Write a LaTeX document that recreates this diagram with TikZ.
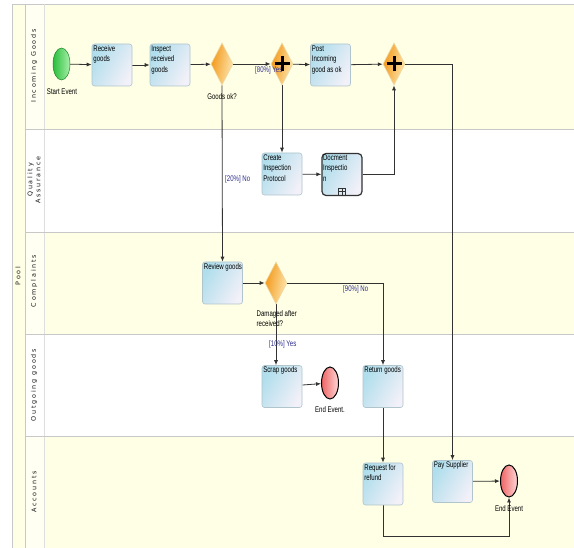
\documentclass[tikz,border=0pt]{standalone}
\usepackage{fontspec}
\setmainfont{Liberation Sans}
\newfontfamily\condfont[FakeStretch=0.74]{Liberation Sans}
\newfontfamily\spacedfont[LetterSpace=28]{DejaVu Sans}
\usetikzlibrary{shapes.geometric,arrows.meta}
\pgfdeclarelayer{lanes}
\pgfdeclarelayer{edges}
\pgfsetlayers{lanes,edges,main}
\definecolor{laneyellow}{RGB}{255,255,230}
\definecolor{headyellow}{RGB}{255,255,242}
\definecolor{lanegray}{RGB}{200,200,200}
\definecolor{taskblue}{RGB}{176,222,236}
\definecolor{taskwhite}{RGB}{242,240,248}
\definecolor{taskborder}{RGB}{176,196,204}
\definecolor{gworange}{RGB}{243,150,20}
\definecolor{gwlight}{RGB}{253,232,180}
\definecolor{gwborder}{RGB}{240,215,160}
\definecolor{evgreen}{RGB}{40,190,60}
\definecolor{evgreenlight}{RGB}{170,240,170}
\definecolor{evred}{RGB}{238,100,100}
\definecolor{evredlight}{RGB}{255,215,215}
\definecolor{flowlbl}{RGB}{46,46,140}
\definecolor{linecol}{RGB}{50,50,50}
\tikzset{
  boxfont/.style={font=\fontsize{8.2}{10.5}\selectfont\condfont},
  task/.style={rectangle, rounded corners=2.5pt, draw=taskborder, line width=0.6pt,
    minimum width=40pt, minimum height=42pt, inner sep=0pt,
    left color=taskblue, right color=taskwhite, shading angle=60},
  tasktxt/.style={anchor=north west, align=left, inner sep=1.5pt, boxfont, text=black},
  gateway/.style={diamond, draw=gwborder, line width=0.6pt, inner sep=0pt,
    minimum width=22pt, minimum height=42pt, left color=gworange, right color=gwlight, shading angle=80},
  startev/.style={ellipse, draw=evgreen!70!black, line width=0.5pt, minimum width=17pt, minimum height=32pt,
    inner sep=0pt, left color=evgreen, right color=evgreenlight},
  endev/.style={ellipse, draw=black, line width=1pt, minimum width=17pt, minimum height=32pt,
    inner sep=0pt, left color=evred, right color=evredlight},
  evlbl/.style={boxfont, inner sep=0pt},
  flowtxt/.style={boxfont, text=flowlbl, inner sep=0pt},
  flow/.style={draw=linecol, line width=0.8pt, -{Latex[length=5pt,width=4pt]}},
  plainflow/.style={draw=linecol, line width=0.8pt},
  plusmark/.style={black, line width=3pt},
  lanelbl/.style={font=\fontsize{6.4}{8}\selectfont\spacedfont, text=black!90, rotate=90, align=center, inner sep=0pt}
}
\begin{document}
\begin{tikzpicture}[x=1pt,y=-1pt]
\useasboundingbox (0,0) rectangle (574,548);
\begin{pgfonlayer}{lanes}
  \fill[white] (0,0) rectangle (574,548);
  \fill[laneyellow] (12,4) rectangle (574,548);
  \fill[laneyellow] (25,4) rectangle (574,129);
  \fill[white] (25,129) rectangle (574,232);
  \fill[laneyellow] (25,232) rectangle (574,334);
  \fill[white] (25,334) rectangle (574,436);
  \fill[laneyellow] (25,436) rectangle (574,548);
  \fill[headyellow] (25,4) rectangle (44,129);
  \fill[headyellow] (25,232) rectangle (44,334);
  \fill[headyellow] (25,436) rectangle (44,548);
  \draw[lanegray, line width=0.8pt] (12,548) -- (12,4) -- (574,4);
  \draw[lanegray, line width=0.6pt] (25,4) -- (25,548);
  \draw[lanegray!60, line width=0.4pt] (44,4) -- (44,548);
  \foreach \yy in {129,232,334,436} \draw[lanegray, line width=0.8pt] (25,\yy) -- (574,\yy);
\end{pgfonlayer}
% lane titles
\node[lanelbl] (pool) at (18,276) {Pool};
\node[lanelbl] (lig) at (34,66) {Incoming Goods};
\node[lanelbl] (lqa) at (34,180) {Quality\\Assurance};
\node[lanelbl] (lco) at (34,281) {Complaints};
\node[lanelbl] (log) at (34,385) {Outgoing goods};
\node[lanelbl] (lac) at (34,492) {Accounts};
% nodes
\node[startev] (start) at (61.5,64) {};
\node[evlbl] (startl) at (62,92) {Start Event};
\node[task, label={[tasktxt]north west:{Receive\\goods}}] (receive) at (112,65) {};
\node[task, label={[tasktxt]north west:{Inspect\\received\\goods}}] (inspect) at (170,65) {};
\node[gateway] (gok) at (222,64) {};
\node[evlbl] (gokl) at (222,97) {Goods ok?};
\node[gateway] (par1) at (282,64) {};
\node[flowtxt, anchor=west] (l80) at (255,70) {[80\%] Yes};
\node[task, label={[tasktxt]north west:{Post\\Incoming\\good as ok}}] (post) at (330.5,65) {};
\node[gateway] (par2) at (394,64) {};
\foreach \g in {par1,par2}{
  \draw[plusmark] ([yshift=-7.5pt]\g.center) -- ([yshift=7.5pt]\g.center);
  \draw[plusmark] ([xshift=-7.5pt]\g.center) -- ([xshift=7.5pt]\g.center);
}
\node[task, label={[tasktxt]north west:{Create\\Inspection\\Protocol}}] (create) at (282,174) {};
\node[task, draw=black!80, line width=1.2pt, rounded corners=4pt,
  label={[tasktxt]north west:{Docment\\Inspectio\\n}}] (docinsp) at (342,174.5) {};
\draw[black!80, line width=0.5pt] (338.5,188) rectangle (345.5,195);
\draw[black!80, line width=0.5pt] (342,188) -- (342,195) (338.5,191.5) -- (345.5,191.5);
\node[task, label={[tasktxt]north west:{Review goods}}] (review) at (222.5,283) {};
\node[gateway] (dmg) at (276,283) {};
\node[evlbl, anchor=north west, align=left] (dmgl) at (256.5,310) {Damaged after\\received?};
\node[task, label={[tasktxt]north west:{Scrap goods}}] (scrap) at (282,386.5) {};
\node[endev] (end1) at (330,383) {};
\node[evlbl] (end1l) at (330,410) {End Event.};
\node[task, label={[tasktxt]north west:{Return goods}}] (return) at (383,386.5) {};
\node[task, label={[tasktxt]north west:{Request for\\refund}}] (refund) at (383,484) {};
\node[task, label={[tasktxt]north west:{Pay Supplier}}] (pay) at (452.5,481.5) {};
\node[endev] (end2) at (509,481) {};
\node[evlbl] (end2l) at (509,509) {End Event};
\coordinate (c1) at (383,536);
% edges
\begin{pgfonlayer}{edges}
  \draw[flow] (start) -- (receive);
  \draw[flow] (receive) -- (inspect);
  \draw[flow] (inspect) -- (gok);
  \draw[flow] (gok) -- (par1);
  \draw[flow] (par1) -- (post);
  \draw[flow] (post) -- (par2);
  \draw[flow] (par1) -- (create);
  \draw[flow] (create) -- (docinsp);
  \draw[flow] (docinsp.east) -| (par2.south);
  \draw[flow] (par2.east) -| (pay.north);
  \draw[flow] (gok.south) -- (review.north);
  \draw[flow] (review) -- (dmg);
  \draw[flow] (dmg.east) -| (return.north);
  \draw[flow] (dmg.south) -- (dmg.south |- scrap.north);
  \draw[flow] (scrap) -- (end1);
  \draw[flow] (return) -- (refund);
  \draw[flow] (pay) -- (end2);
  \draw[plainflow] (refund.south) -- (c1);
  \draw[flow] (c1) -| (end2.south);
  \node[flowtxt, anchor=west] (l20) at (225,179) {[20\%] No};
  \node[flowtxt, anchor=west] (l90) at (343,289) {[90\%] No};
  \node[flowtxt, anchor=west] (l10) at (269,344) {[10\%] Yes};
\end{pgfonlayer}
\end{tikzpicture}
\end{document}
